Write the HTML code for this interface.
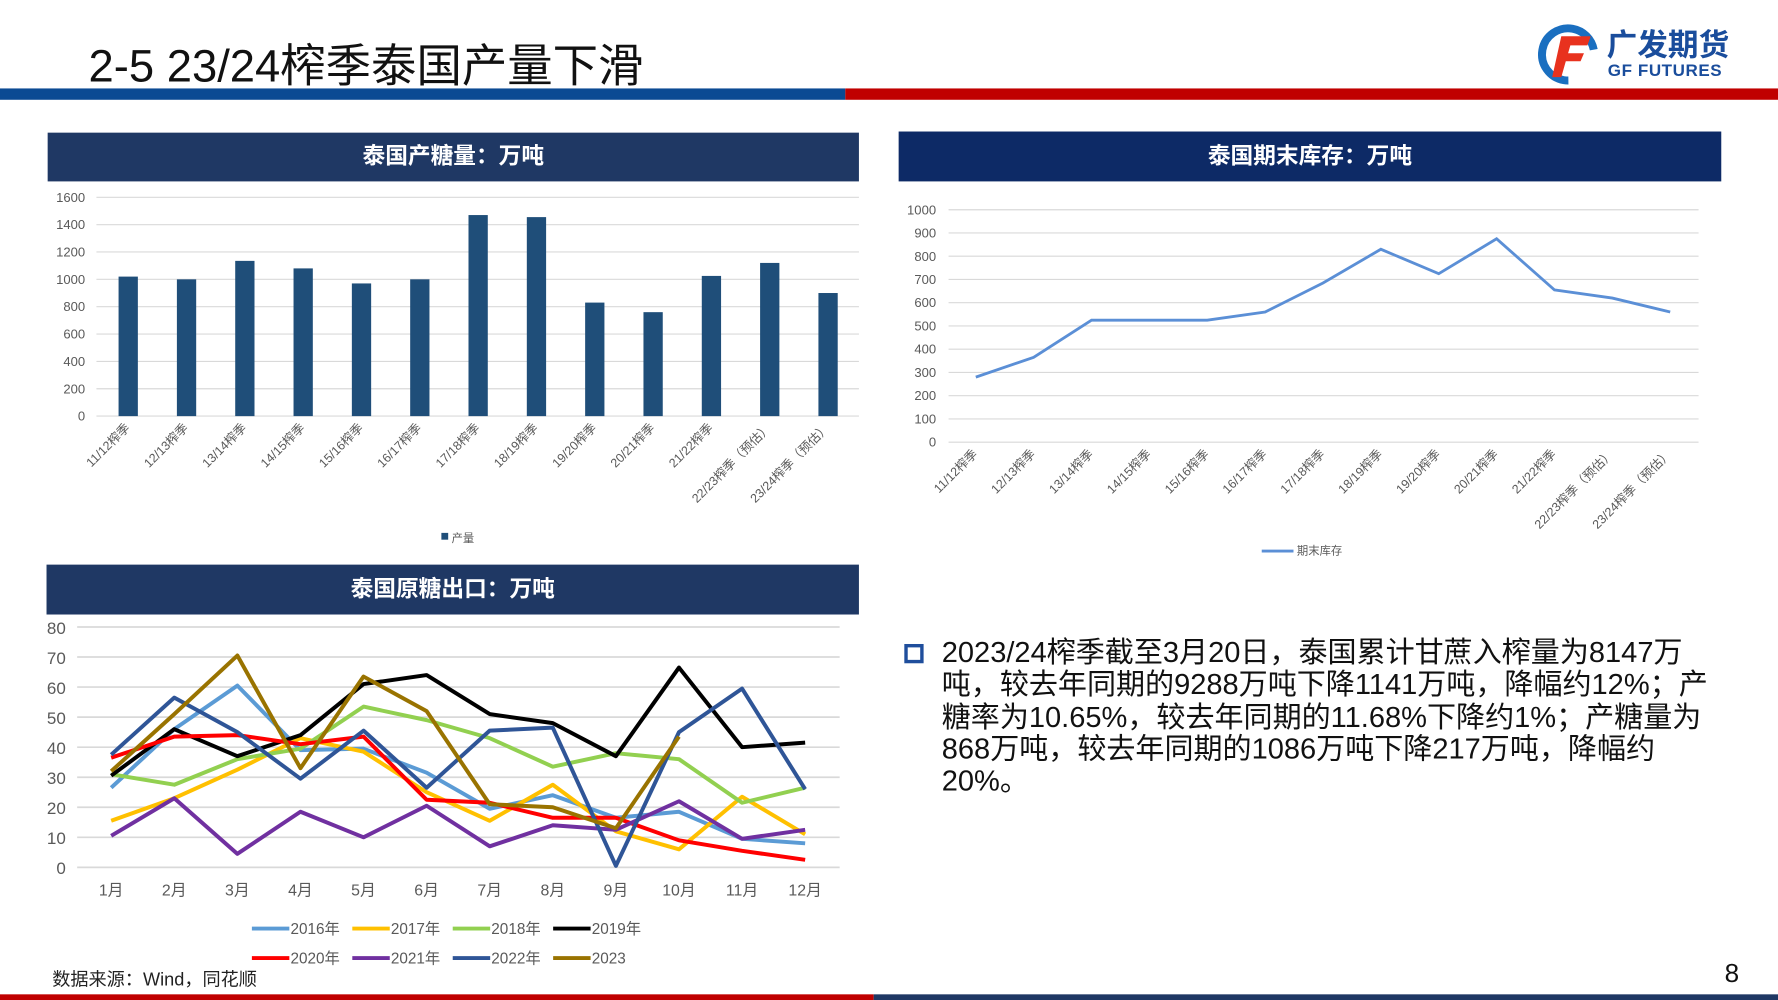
<!DOCTYPE html>
<html><head><meta charset="utf-8"><style>
html,body{margin:0;padding:0;background:#fff;overflow:hidden}
#wrap{width:1567px;height:882px;position:relative;transform:scale(1.13465,1.13379);transform-origin:0 0;font-family:"Liberation Sans","Noto Sans CJK SC",sans-serif}
.abs{position:absolute}
.hdr{position:absolute;color:#fff;font-weight:bold;font-size:20px;text-align:center;font-family:"Liberation Sans","Noto Sans CJK SC",sans-serif}
</style></head><body>
<div id="wrap">
<div class="abs" style="left:78px;top:26px;font-size:40px;color:#111">2-5 23/24榨季泰国产量下滑</div>
<div class="abs" style="left:0;top:78px;width:745px;height:10px;background:#0b4a93"></div>
<div class="abs" style="left:745px;top:78px;width:822px;height:10px;background:#c00000"></div>
<div class="abs" style="left:1350px;top:14px;width:200px;height:62px;background:#fff">
 <svg width="60" height="60" style="position:absolute;left:4px;top:4px"><circle cx="28" cy="30" r="23" fill="none" stroke="#1a6fc0" stroke-width="7" stroke-dasharray="100 40" transform="rotate(100 28 30)"/><path d="M22 14h26l-3 8H30l-2 7h14l-3 7H26l-4 14h-8z" fill="#e8321e"/></svg>
 <div class="abs" style="left:66px;top:4px;font-size:27px;font-weight:bold;color:#1a4d9c">广发期货</div>
 <div class="abs" style="left:67px;top:40px;font-size:15px;font-weight:bold;color:#1a4d9c;letter-spacing:0.5px">GF FUTURES</div>
</div>
<div class="hdr" style="left:42px;top:117px;width:715px;height:43px;line-height:43px;background:#1f3864">泰国产糖量：万吨</div>
<div class="hdr" style="left:792px;top:116px;width:725px;height:44px;line-height:44px;background:#0d2a66">泰国期末库存：万吨</div>
<div class="hdr" style="left:41px;top:498px;width:716px;height:44px;line-height:44px;background:#1f3864">泰国原糖出口：万吨</div>
<svg id="c1" class="abs" style="left:0;top:0" width="1567" height="882"></svg>
<div class="abs" style="left:797px;top:568px;width:11px;height:11px;border:3px solid #1f4e9c"></div>
<div class="abs" style="left:830px;top:562px;white-space:nowrap;font-size:25.6px;line-height:28.3px;color:#111">2023/24榨季截至3月20日，泰国累计甘蔗入榨量为8147万<br>吨，较去年同期的9288万吨下降1141万吨，降幅约12%；产<br>糖率为10.65%，较去年同期的11.68%下降约1%；产糖量为<br>868万吨，较去年同期的1086万吨下降217万吨，降幅约<br>20%。</div>
<div class="abs" style="left:46px;top:850px;font-size:16px;color:#222">数据来源：Wind，同花顺</div>
<div class="abs" style="left:1520px;top:845px;font-size:23px;color:#111">8</div>
<div class="abs" style="left:0;top:877px;width:770px;height:5px;background:#c00000"></div>
<div class="abs" style="left:770px;top:877px;width:797px;height:5px;background:#1f3864"></div>
</div>
<script>
const seasons=["11/12榨季","12/13榨季","13/14榨季","14/15榨季","15/16榨季","16/17榨季","17/18榨季","18/19榨季","19/20榨季","20/21榨季","21/22榨季","22/23榨季（预估）","23/24榨季（预估）"];
const production=[1020,1000,1135,1080,970,1000,1470,1455,830,760,1025,1120,900];
const prodTicks=[0,200,400,600,800,1000,1200,1400,1600];
const stock=[280,365,525,525,525,560,685,830,725,875,655,620,560];
const stockTicks=[0,100,200,300,400,500,600,700,800,900,1000];
const months=["1月","2月","3月","4月","5月","6月","7月","8月","9月","10月","11月","12月"];
const exportTicks=[0,10,20,30,40,50,60,70,80];
const s2016=[26.5,46,60.5,39,39.5,31.5,19.5,24,16.5,18.5,9.5,8];
const s2017=[15.5,23,32.5,43,38.5,25,15.5,27.5,12,6,23.5,11];
const s2018=[31,27.5,36,39.5,53.5,49,43,33.5,38,36,21.5,26.5];
const s2019=[30.5,46,37,44,61,64,51,48,37,66.5,40,41.5];
const s2020=[36.5,43.5,44,41,43.5,22.5,21.5,16.5,16.5,9,5.5,2.5];
const s2021=[10.5,23,4.5,18.5,10,20.5,7,14,12.5,22,9.5,12.5];
const s2022=[37.5,56.5,45,29.5,45.5,26.5,45.5,46.5,0.5,45,59.5,26];
const s2023=[32,51,70.5,33,63.5,52,21,20,13,43.5];
const seriesNames=["2016年","2017年","2018年","2019年","2020年","2021年","2022年","2023"];
const seriesData=[s2016,s2017,s2018,s2019,s2020,s2021,s2022,s2023];
const seriesColors=["#5b9bd5","#ffc000","#92d050","#000000","#ff0000","#7030a0","#2f5597","#997300"];
const NS="http://www.w3.org/2000/svg";
const svg=document.getElementById('c1');
function mk(t,a,txt){const e=document.createElementNS(NS,t);for(const k in a)e.setAttribute(k,a[k]);if(txt!==undefined)e.textContent=txt;svg.appendChild(e);return e;}
const F='"Liberation Sans","Noto Sans CJK SC",sans-serif';
const y1=v=>367-v/1600*193, x1=i=>113+i*51.4;
prodTicks.forEach(t=>{let g=mk('line',{x1:85,x2:757,y1:y1(t),y2:y1(t),stroke:'#d9d9d9'});
let l=mk('text',{x:75,y:y1(t)+4,'text-anchor':'end','font-size':11.5,fill:'#595959','font-family':F},t);});
production.forEach((v,i)=>{let r=mk('rect',{x:x1(i)-8.5,y:y1(v),width:17,height:367-y1(v),fill:'#1f4e79'});
let l=mk('text',{x:x1(i)+2,y:378,'text-anchor':'end','font-size':11,fill:'#595959','font-family':F,transform:`rotate(-45 ${x1(i)+2} 378)`},seasons[i]);});
let lg=mk('rect',{x:389,y:470,width:6,height:6,fill:'#1f4e79'});
lg=mk('text',{x:398,y:478,'font-size':10,fill:'#595959','font-family':F},'产量');
const y2=v=>390-v/1000*205, x2=i=>860+i*51;
stockTicks.forEach(t=>{let g=mk('line',{x1:836,x2:1497,y1:y2(t),y2:y2(t),stroke:'#d9d9d9'});
let l=mk('text',{x:825,y:y2(t)+4,'text-anchor':'end','font-size':11.5,fill:'#595959','font-family':F},t);});
let p2=mk('polyline',{points:stock.map((v,i)=>x2(i)+','+y2(v)).join(' '),fill:'none',stroke:'#5b8fd6','stroke-width':2.5});
seasons.forEach((s,i)=>{let l=mk('text',{x:x2(i)+2,y:401,'text-anchor':'end','font-size':11,fill:'#595959','font-family':F,transform:`rotate(-45 ${x2(i)+2} 401)`},s);});
lg=mk('line',{x1:1112,x2:1140,y1:486,y2:486,stroke:'#5b8fd6','stroke-width':2.5});
lg=mk('text',{x:1143,y:489,'font-size':10,fill:'#595959','font-family':F},'期末库存');
const y3=v=>765-v/80*212, x3=i=>98+i*55.6;
exportTicks.forEach(t=>{let g=mk('line',{x1:68,x2:740,y1:y3(t),y2:y3(t),stroke:'#d9d9d9','stroke-width':1.5});
let l=mk('text',{x:58,y:y3(t)+6,'text-anchor':'end','font-size':15,fill:'#595959','font-family':F},t);});
months.forEach((m,i)=>{let l=mk('text',{x:x3(i),y:790,'text-anchor':'middle','font-size':14,fill:'#595959','font-family':F},m);});
seriesData.forEach((d,k)=>{let p=mk('polyline',{points:d.map((v,i)=>x3(i)+','+y3(v)).join(' '),fill:'none',stroke:seriesColors[k],'stroke-width':3.5,'stroke-linejoin':'round'});});
seriesNames.forEach((n,k)=>{const lx=222+(k%4)*88.5, ly=k<4?819:845;
let s=mk('line',{x1:lx,x2:lx+33,y1:ly,y2:ly,stroke:seriesColors[k],'stroke-width':3.5});
let t=mk('text',{x:lx+34,y:ly+5,'font-size':13.5,fill:'#595959','font-family':F},n);});
</script>
</body></html>
